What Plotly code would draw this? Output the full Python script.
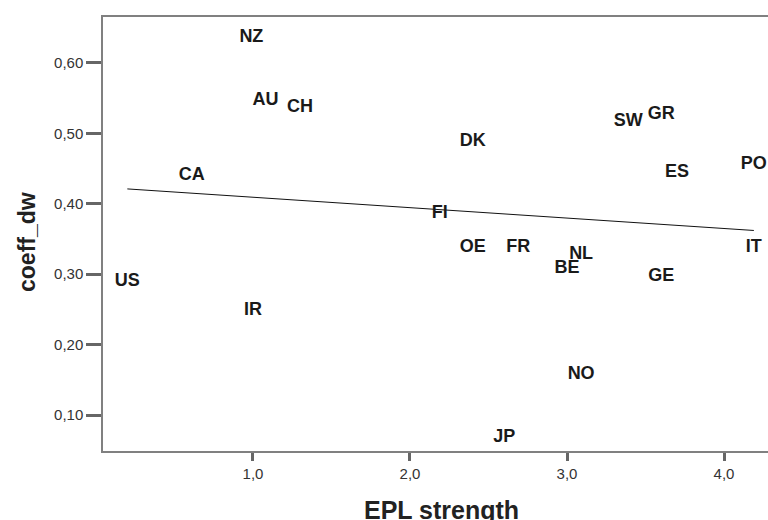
import plotly.graph_objects as go

countries = ["NZ", "AU", "CH", "CA", "US", "IR", "DK", "FI", "SW", "GR",
             "ES", "PO", "IT", "OE", "FR", "NL", "BE", "GE", "NO", "JP"]
epl = [0.99, 1.08, 1.30, 0.61, 0.20, 1.00, 2.40, 2.19, 3.39, 3.60,
       3.70, 4.19, 4.19, 2.40, 2.69, 3.09, 3.00, 3.60, 3.09, 2.60]
coeff_dw = [0.636, 0.547, 0.537, 0.440, 0.289, 0.249, 0.488, 0.386, 0.516, 0.527,
            0.445, 0.456, 0.338, 0.338, 0.338, 0.328, 0.308, 0.296, 0.157, 0.068]

fit_x = [0.20, 4.19]
fit_y = [0.421, 0.362]

x_ticks = [1.0, 2.0, 3.0, 4.0]
y_ticks = [0.10, 0.20, 0.30, 0.40, 0.50, 0.60]

FONT = "Liberation Sans, Arial, sans-serif"

fig = go.Figure()
fig.add_trace(go.Scatter(x=fit_x, y=fit_y, mode="lines",
                         line=dict(color="#111111", width=1), hoverinfo="skip"))
fig.add_trace(go.Scatter(x=epl, y=coeff_dw, mode="text", text=countries,
                         textposition="middle center",
                         textfont=dict(family=FONT, size=18, color="#1a1a1a",
                                       weight="bold")))

axis_common = dict(showgrid=False, zeroline=False, showline=True, linecolor="#808080",
                   linewidth=1.5, ticks="outside", tickcolor="#666666", tickwidth=3,
                   tickfont=dict(family=FONT, size=15, color="#333333"))

fig.update_xaxes(range=[0.045, 4.28], tickvals=x_ticks, tickformat=".1f", ticklen=8,
                 mirror=True, **axis_common)
fig.update_yaxes(range=[0.049, 0.665], tickvals=y_ticks, tickformat=".2f", ticklen=15,
                 **axis_common)

fig.add_annotation(text="<b>EPL strength</b>", xref="paper", yref="paper", x=0.5, y=0,
                   xanchor="center", yanchor="middle", yshift=-59, xshift=6, showarrow=False,
                   font=dict(family=FONT, size=25, color="#222222"))
fig.add_annotation(text="<b>coeff_dw</b>", xref="paper", yref="paper", x=0, y=0.5,
                   xanchor="center", yanchor="middle", xshift=-76, yshift=-8, textangle=-90,
                   showarrow=False,
                   font=dict(family=FONT, size=23, color="#222222"))

fig.update_layout(width=768, height=520, margin=dict(l=103, r=0, t=17, b=69),
                  plot_bgcolor="white", paper_bgcolor="white", showlegend=False,
                  separators=",.")
fig.write_html("out.html", config={"displayModeBar": False},
               post_script="document.body.style.margin='0';document.body.style.padding='0';")
